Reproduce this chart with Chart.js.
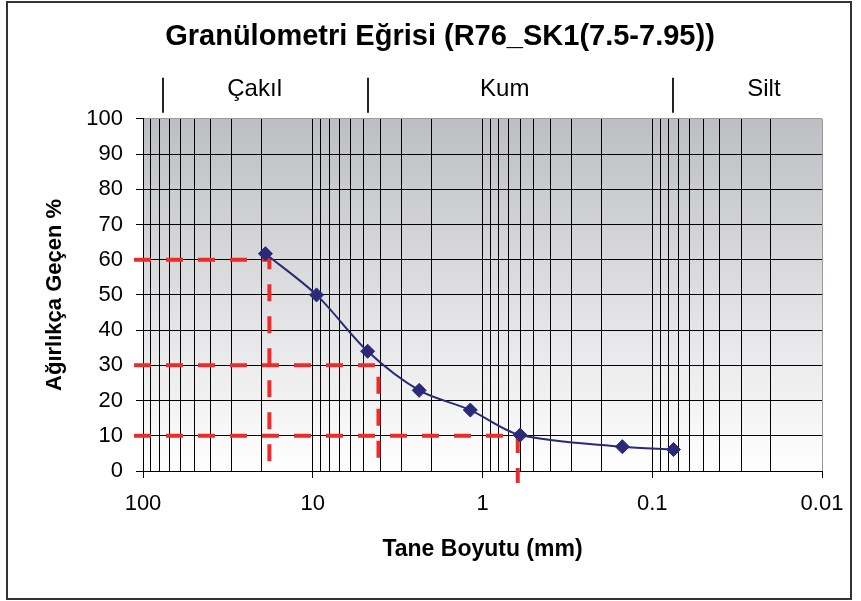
<!DOCTYPE html>
<html>
<head>
<meta charset="utf-8">
<script src="https://cdn.jsdelivr.net/npm/chart.js@4.4.0/dist/chart.umd.min.js"></script>
<style>
    html, body { margin: 0; padding: 0; background: #fff; }
    #wrap { width: 861px; height: 601px; }
</style>
</head>
<body>
<div id="wrap"><canvas id="granChart" width="861" height="601"></canvas></div>
<script>
// elek boyutu (mm) ve geçen yüzde
const sieveSizes = [19, 9.5, 4.75, 2.36, 1.18, 0.6, 0.15, 0.075];
const percentPassing = [61.7, 50, 34, 22.9, 17.3, 10.2, 6.9, 6.1];

// D60 / D30 / D10 kılavuz çizgileri
const guideLevels = [60, 30, 10];
const guideSizes = [18, 4.1, 0.62];
const guideBottoms = [0, 0, -3.4];
const guideStart = 113;

// eksen etiketleri
const majorTicks = [100, 10, 1, 0.1, 0.01];
const minorSteps = [2, 3, 4, 5, 6, 7, 8, 9];
const yTicks = [0, 10, 20, 30, 40, 50, 60, 70, 80, 90, 100];

// üst bant: Çakıl / Kum / Silt
const zoneEdges = [76, 4.75, 0.075];
const zoneNames = ['Çakıl', 'Kum', 'Silt'];
const zoneLabelAt = [22, 0.74, 0.022];

const FONT = "'Liberation Sans', Arial, sans-serif";
const lineColor = '#2A2A78';
const guideColor = '#EE2A2A';

// log grid: her on'luk içinde 1..9
const gridValues = [];
majorTicks.forEach(m => {
    gridValues.push(m);
    if (m < 100) {
        minorSteps.forEach(s => gridValues.push(Number((m * s).toPrecision(6))));
    }
});

const guideSets = guideLevels.map((lvl, i) => ({
    data: [
        { x: guideStart, y: lvl },
        { x: guideSizes[i], y: lvl },
        { x: guideSizes[i], y: guideBottoms[i] }
    ],
    showLine: true,
    borderColor: guideColor,
    borderWidth: 4,
    borderDash: [17, 15],
    pointRadius: 0,
    tension: 0,
    clip: false,
    order: 2
}));

const chartDecor = {
    id: 'chartDecor',
    afterLayout(chart) {
        // başlık biraz sağda duruyor
        if (chart.titleBlock) chart.titleBlock.left += 20;
    },
    beforeDraw(chart) {
        const ctx = chart.ctx;
        const a = chart.chartArea;
        ctx.save();
        ctx.fillStyle = '#fff';
        ctx.fillRect(0, 0, chart.width, chart.height);
        const g = ctx.createLinearGradient(0, a.top, 0, a.bottom);
        g.addColorStop(0, '#BDBEC2');
        g.addColorStop(1, '#FFFFFF');
        ctx.fillStyle = g;
        ctx.fillRect(a.left, a.top, a.right - a.left, a.bottom - a.top);
        ctx.restore();
    },
    afterDraw(chart) {
        const ctx = chart.ctx;
        const a = chart.chartArea;
        const xs = chart.scales.x;
        ctx.save();
        // dış çerçeve
        ctx.strokeStyle = '#333';
        ctx.lineWidth = 2;
        ctx.strokeRect(7, 2, 844, 597);

        // bölge ayraçları
        ctx.strokeStyle = '#222';
        ctx.lineWidth = 2;
        zoneEdges.forEach(v => {
            const px = Math.round(xs.getPixelForValue(v));
            ctx.beginPath();
            ctx.moveTo(px, a.top - 41);
            ctx.lineTo(px, a.top - 6);
            ctx.stroke();
        });
        ctx.fillStyle = '#000';
        ctx.font = '24px ' + FONT;
        ctx.textAlign = 'center';
        ctx.textBaseline = 'middle';
        zoneNames.forEach((name, i) => {
            ctx.fillText(name, xs.getPixelForValue(zoneLabelAt[i]), a.top - 29);
        });
        ctx.restore();
    }
};

const ctx = document.getElementById('granChart').getContext('2d');
const granChart = new Chart(ctx, {
    type: 'scatter',
    data: {
        datasets: [{
            data: sieveSizes.map((s, i) => ({ x: s, y: percentPassing[i] })),
            showLine: true,
            borderColor: lineColor,
            borderWidth: 2,
            backgroundColor: lineColor,
            pointStyle: 'rectRot',
            pointRadius: 7,
            pointBorderWidth: 1,
            tension: 0.3,
            order: 0
        }, ...guideSets]
    },
    options: {
        responsive: false,
        devicePixelRatio: 1,
        animation: false,
        layout: { padding: { left: 38, right: 39, top: 0, bottom: 34 } },
        plugins: {
            legend: { display: false },
            tooltip: { enabled: false },
            title: {
                display: true,
                text: 'Granülometri Eğrisi (R76_SK1(7.5-7.95))',
                color: '#000',
                font: { family: FONT, size: 29, weight: 'bold' },
                padding: { top: 20, bottom: 64 }
            }
        },
        scales: {
            x: {
                type: 'logarithmic',
                reverse: true,
                min: 0.01,
                max: 100,
                afterBuildTicks: scale => {
                    scale.ticks = gridValues.map(v => ({ value: v, major: majorTicks.includes(v) }));
                },
                afterFit: scale => { scale.height = 96; },
                ticks: {
                    autoSkip: false,
                    maxRotation: 0,
                    padding: 13,
                    color: '#000',
                    font: { family: FONT, size: 22 },
                    callback: v => majorTicks.includes(v) ? String(v) : ''
                },
                grid: {
                    color: c => (c.tick && c.tick.value === 0.01) ? '#999' : '#000',
                    lineWidth: 1,
                    tickLength: 7,
                    tickColor: c => (c.tick && majorTicks.includes(c.tick.value)) ? '#000' : 'rgba(0,0,0,0)'
                },
                border: { color: '#000', width: 1 },
                title: {
                    display: true,
                    text: 'Tane Boyutu (mm)',
                    color: '#000',
                    font: { family: FONT, size: 23, weight: 'bold' }
                }
            },
            y: {
                min: 0,
                max: 100,
                afterBuildTicks: scale => {
                    scale.ticks = yTicks.map(v => ({ value: v }));
                },
                afterFit: scale => { scale.width = 105; },
                ticks: {
                    padding: 13,
                    color: '#000',
                    font: { family: FONT, size: 22 }
                },
                grid: {
                    color: c => (c.tick && c.tick.value === 100) ? '#999' : '#000',
                    lineWidth: 1,
                    tickLength: 7,
                    tickColor: '#000'
                },
                border: { color: '#000', width: 1 },
                title: {
                    display: true,
                    text: 'Ağırlıkça Geçen %',
                    color: '#000',
                    font: { family: FONT, size: 22, weight: 'bold' }
                }
            }
        }
    },
    plugins: [chartDecor]
});
</script>
</body>
</html>
